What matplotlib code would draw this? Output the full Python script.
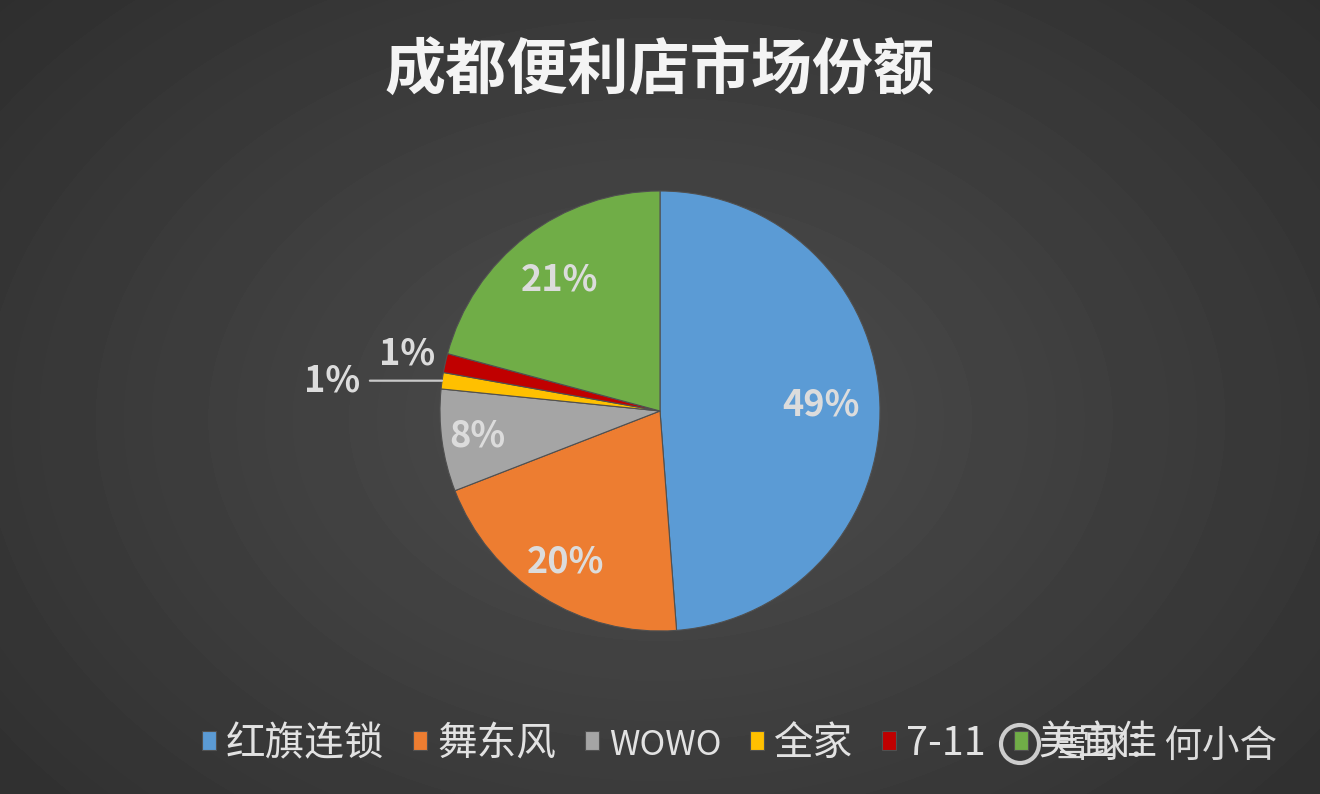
import numpy as np
import matplotlib.pyplot as plt
from matplotlib.patches import Circle

plt.rcParams['font.family'] = ['Noto Sans CJK SC', 'DejaVu Sans']

title = '成都便利店市场份额'
stores = ['红旗连锁', '舞东风', 'WOWO', '全家', '7-11', '美宜佳']
shares = [48.8, 20.3, 7.5, 1.2, 1.4, 20.8]
colors = ['#5B9BD5', '#ED7D31', '#A5A5A5', '#FFC000', '#C00000', '#70AD47']
# label distance from centre as fraction of radius (None = leader line)
label_dist = [0.73, 0.81, 0.84, None, 1.18, 0.75]
watermark = '雪球：何小合'

W, H = 1320, 794
fig = plt.figure(figsize=(W / 100, H / 100), dpi=100)
ax = fig.add_axes([0, 0, 1, 1])

# radial grey background
yy, xx = np.mgrid[0:H, 0:W]
d = np.sqrt(((xx - 660) / 900) ** 2 + ((yy - (H - 420)) / 640) ** 2)
bg = 0.305 - 0.125 * np.clip(d, 0, 1)
ax.imshow(bg, cmap='gray', vmin=0, vmax=1, extent=(0, W, 0, H),
          origin='lower', zorder=0)

cx, cy, R = 660, H - 411, 220
wedges, _ = ax.pie(shares, colors=colors, startangle=90, counterclock=False,
                   center=(cx, cy), radius=R,
                   wedgeprops=dict(edgecolor='#505050', linewidth=0.8))
for w in wedges:
    w.set_zorder(2)

ax.set_xlim(0, W)
ax.set_ylim(0, H)
ax.set_aspect('equal')
ax.axis('off')

txt_color = '#DCDCDC'
for w, s, dist in zip(wedges, shares, label_dist):
    th = np.deg2rad((w.theta1 + w.theta2) / 2)
    lbl = f'{round(s):.0f}%'
    if dist is None:
        ex, ey = cx + R * np.cos(th), cy + R * np.sin(th)
        ax.annotate(lbl, xy=(ex, ey), xytext=(ex - 110, ey),
                    ha='center', va='center', fontsize=26, fontweight='bold',
                    color=txt_color, zorder=3,
                    arrowprops=dict(arrowstyle='-', color='#C8C8C8', lw=1.6,
                                    relpos=(1, 0.5), shrinkA=5, shrinkB=0))
    else:
        ax.text(cx + dist * R * np.cos(th), cy + dist * R * np.sin(th), lbl,
                ha='center', va='center', fontsize=26, fontweight='bold',
                color=txt_color, zorder=3)

ax.text(W / 2, H - 72, title, ha='center', va='center', fontsize=44,
        fontweight='bold', color='#F4F4F4')

leg = ax.legend(wedges, stores, ncol=6, loc='center left',
                bbox_to_anchor=(202 / W, 50 / H), frameon=False, fontsize=28.5,
                labelcolor='#E2E2E2', handlelength=0.36, handleheight=0.36,
                handletextpad=0.25, columnspacing=0.72,
                borderpad=0, borderaxespad=0)
for t in leg.get_texts():
    if t.get_text() == 'WOWO':
        t.set_fontsize(25)

# watermark
ax.add_patch(Circle((1020, 50), 19, fill=False, edgecolor='#E8E8E8', lw=3,
                    alpha=0.85, zorder=5))
ax.text(1052, 48, watermark, ha='left', va='center', fontsize=27,
        color='#F0F0F0', alpha=0.9, zorder=5)

fig.savefig('out.png', dpi=100)
